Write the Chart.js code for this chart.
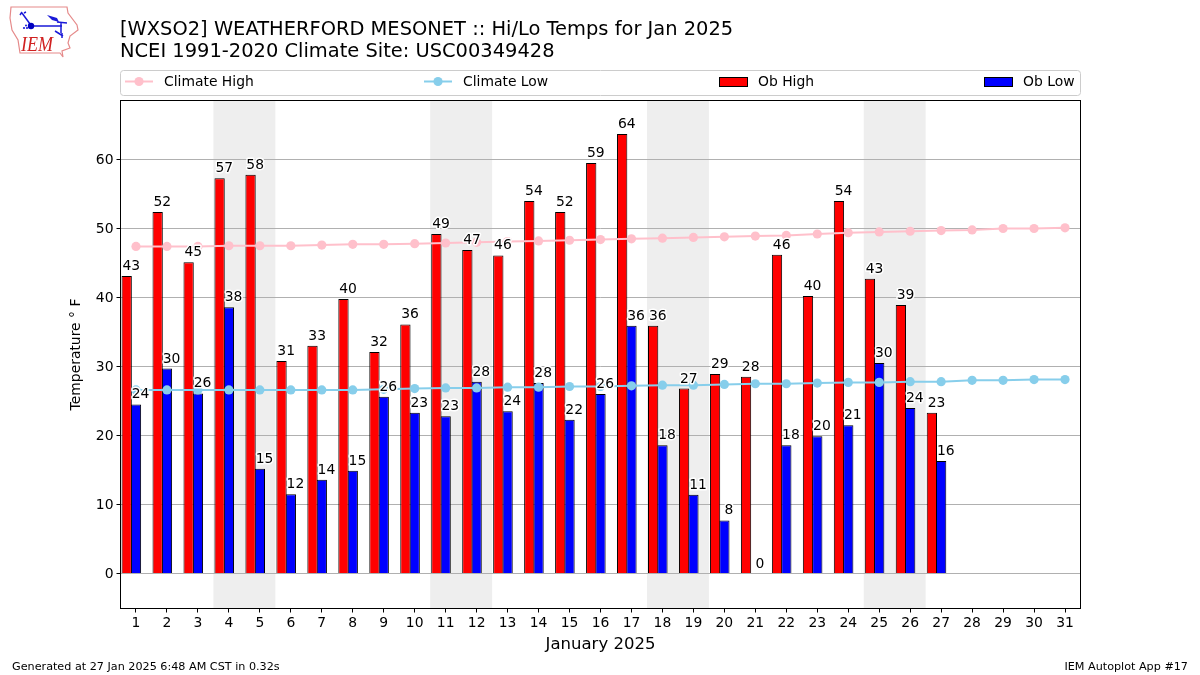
<!DOCTYPE html>
<html><head><meta charset="utf-8">
<script src="https://cdn.jsdelivr.net/npm/chart.js@4"></script>
<style>
html,body{margin:0;padding:0;background:#fff;overflow:hidden}
#wrap{position:relative;width:1200px;height:675px;font-family:"DejaVu Sans",sans-serif;color:#000}
canvas{position:absolute;left:0;top:0}
.t{position:absolute;white-space:nowrap}
#title{left:120px;top:18px;font-size:19.45px;line-height:21.5px}
#fl{left:12px;top:660px;font-size:11.2px;line-height:13px}
#fr{right:12px;top:660px;font-size:11.2px;line-height:13px}
#logo{position:absolute;left:0;top:0}
</style></head>
<body><div id="wrap">
<canvas id="c" width="1200" height="675"></canvas>
<svg id="logo" width="90" height="62" viewBox="0 0 90 62">
<path d="M11 7 L67 7 L68 13 L77 25 L78 30 L70 36 L68 43 L70 48 L62 51 L63 57 L60 53 L20 53 L18 40 L12 30 L10 18 Z" fill="#fff" stroke="#e58a8a" stroke-width="1.2"/>
<path d="M22 13 L30 24 M22 12 L20 15 M24 13 L26 12 M30 26 L62 26 M57 22 L67 23 M61 23 L61 33 M55 31 L63 36 M62 33 L62 38" stroke="#1a1ad8" stroke-width="1.5" fill="none"/>
<circle cx="31" cy="26" r="3.2" fill="#0000c0"/>
<path d="M47 15 L57 18 L59 22 L52 20 Z" fill="#1a1ad8"/>
<circle cx="24" cy="28" r="1.1" fill="#1a1ad8"/><circle cx="26" cy="25.5" r="1" fill="#1a1ad8"/><circle cx="27" cy="28" r="1.1" fill="#1a1ad8"/>
<text x="21" y="51" font-family="Liberation Serif" font-style="italic" font-size="20.5" textLength="32" lengthAdjust="spacingAndGlyphs" fill="#d02020">IEM</text>
</svg>
<div class="t" id="title">[WXSO2] WEATHERFORD MESONET :: Hi/Lo Temps for Jan 2025<br>NCEI 1991-2020 Climate Site: USC00349428</div>
<div class="t" id="fl">Generated at 27 Jan 2025 6:48 AM CST in 0.32s</div>
<div class="t" id="fr">IEM Autoplot App #17</div>
</div>
<script>
const days = Array.from({length:31},(_,i)=>String(i+1));
const climateHigh = [47.4,47.4,47.4,47.5,47.5,47.5,47.6,47.7,47.7,47.8,47.9,48.0,48.1,48.2,48.3,48.4,48.5,48.6,48.7,48.8,48.9,49.0,49.2,49.4,49.5,49.6,49.7,49.8,50.0,50.0,50.1];
const climateLow = [26.6,26.6,26.6,26.6,26.6,26.6,26.6,26.6,26.7,26.8,26.9,26.9,27.0,27.0,27.1,27.1,27.2,27.3,27.3,27.4,27.5,27.5,27.6,27.7,27.7,27.8,27.8,28.0,28.0,28.1,28.1];
const obHigh = [43.1,52.4,45.1,57.3,57.8,30.8,33.0,39.8,32.1,36.1,49.2,46.9,46.1,54.0,52.4,59.5,63.7,35.9,26.8,28.9,28.5,46.2,40.2,54.0,42.7,38.9,23.3];
const obLow = [24.5,29.7,26.1,38.6,15.2,11.5,13.6,14.9,25.6,23.3,22.8,27.8,23.5,27.6,22.3,26.0,35.9,18.6,11.4,7.7,0,18.6,19.9,21.5,30.5,24.0,16.3];
const highLabels = [43,52,45,57,58,31,33,40,32,36,49,47,46,54,52,59,64,36,27,29,28,46,40,54,43,39,23];
const lowLabels = [24,30,26,38,15,12,14,15,26,23,23,28,24,28,22,26,36,18,11,8,0,18,20,21,30,24,16];
const weekends = [['4','5'],['11','12'],['18','19'],['25','26']];
const FONT='"DejaVu Sans", sans-serif';

const shade={id:'shade',beforeDraw(ch){
  const {ctx,chartArea:a,scales:{x}}=ch;const half=x.width/31/2;
  ctx.save();ctx.fillStyle='#eeeeee';
  weekends.forEach(([s,e])=>{const l=x.getPixelForValue(days.indexOf(s))-half,r=x.getPixelForValue(days.indexOf(e))+half;ctx.fillRect(l,a.top,r-l,a.bottom-a.top);});
  ctx.restore();
}};
const barLabels={id:'barLabels',afterDatasetsDraw(ch){
  const {ctx}=ch;ctx.save();ctx.font='13.9px '+FONT;ctx.textAlign='center';ctx.textBaseline='alphabetic';
  [[2,highLabels],[3,lowLabels]].forEach(([idx,labs])=>{
    ch.getDatasetMeta(idx).data.forEach((b,i)=>{
      if(labs[i]===undefined)return;
      const tx=b.x+b.width*0.45,ty=b.y-6;
      ctx.strokeStyle='#fff';ctx.lineWidth=3;ctx.lineJoin='round';ctx.strokeText(labs[i],tx,ty);
      ctx.fillStyle='#000';ctx.fillText(labs[i],tx,ty);
    });
  });
  ctx.restore();
}};
const frameLegend={id:'frameLegend',afterDraw(ch){
  const {ctx,chartArea:a}=ch;ctx.save();
  ctx.strokeStyle='#000';ctx.lineWidth=1;ctx.strokeRect(a.left,a.top,a.right-a.left,a.bottom-a.top);
  ctx.strokeStyle='#cccccc';ctx.beginPath();ctx.roundRect(120.5,70.5,960,25,3);ctx.stroke();
  const items=[[125,0],[424,1],[719,2],[984,3]];
  ctx.font='13.9px '+FONT;ctx.textBaseline='middle';ctx.textAlign='left';
  items.forEach(([px,i])=>{
    const d=ch.data.datasets[i],cy=81.5;
    if(d.type==='line'){
      ctx.strokeStyle=d.borderColor;ctx.lineWidth=2;ctx.beginPath();ctx.moveTo(px,cy);ctx.lineTo(px+28,cy);ctx.stroke();
      ctx.fillStyle=d.borderColor;ctx.beginPath();ctx.arc(px+14,cy,4.6,0,Math.PI*2);ctx.fill();
    }else{
      ctx.fillStyle=d.backgroundColor;ctx.strokeStyle='#000';ctx.lineWidth=1;
      ctx.fillRect(px,77,28,9.5);ctx.strokeRect(px+.5,77.5,28,9);
    }
    ctx.fillStyle='#000';ctx.fillText(d.label,px+39,cy+1);
  });
  ctx.restore();
}};

const barOpts={categoryPercentage:.9,barPercentage:1.108,order:2};
new Chart(document.getElementById('c'),{
  data:{labels:days,datasets:[
    {type:'line',label:'Climate High',data:climateHigh,borderColor:'#ffc0cb',backgroundColor:'#ffc0cb',borderWidth:2,pointRadius:4.6,pointBorderWidth:0,tension:0,order:1},
    {type:'line',label:'Climate Low',data:climateLow,borderColor:'#87ceeb',backgroundColor:'#87ceeb',borderWidth:2,pointRadius:4.6,pointBorderWidth:0,tension:0,order:1},
    {type:'bar',label:'Ob High',data:obHigh,backgroundColor:'#ff0000',borderColor:'#000',borderWidth:1,...barOpts},
    {type:'bar',label:'Ob Low',data:obLow,backgroundColor:'#0000ff',borderColor:'#000',borderWidth:1,...barOpts},
    {type:'bar',label:'',data:[],...barOpts}
  ]},
  options:{responsive:false,animation:false,devicePixelRatio:1,
    layout:{padding:{top:100.5,left:60,right:119.5,bottom:0}},
    plugins:{legend:{display:false},title:{display:false},tooltip:{enabled:false}},
    scales:{
      x:{type:'category',offset:true,
        grid:{display:true,drawOnChartArea:false,drawTicks:true,tickLength:4,tickColor:'#000',offset:false},
        border:{display:false},
        ticks:{color:'#000',font:{family:FONT,size:13.9},maxRotation:0,autoSkip:false,padding:3},
        title:{display:true,text:'January 2025',color:'#000',font:{family:FONT,size:16.5},padding:{top:2,bottom:20}},
        afterFit(s){s.height=66.5;}},
      y:{type:'linear',min:-5.07,max:68.55,
        grid:{color:'#b0b0b0',lineWidth:1,tickColor:'#000',tickLength:4},
        border:{display:false},
        ticks:{stepSize:10,includeBounds:false,color:'#000',font:{family:FONT,size:13.9},padding:3,labelOffset:0.8},
        title:{display:true,text:'Temperature ° F',color:'#000',font:{family:FONT,size:13.9},padding:{top:8,bottom:4}},
        afterFit(s){s.width=60.5;}}
    }
  },
  plugins:[shade,barLabels,frameLegend]
});
</script>
</body></html>
